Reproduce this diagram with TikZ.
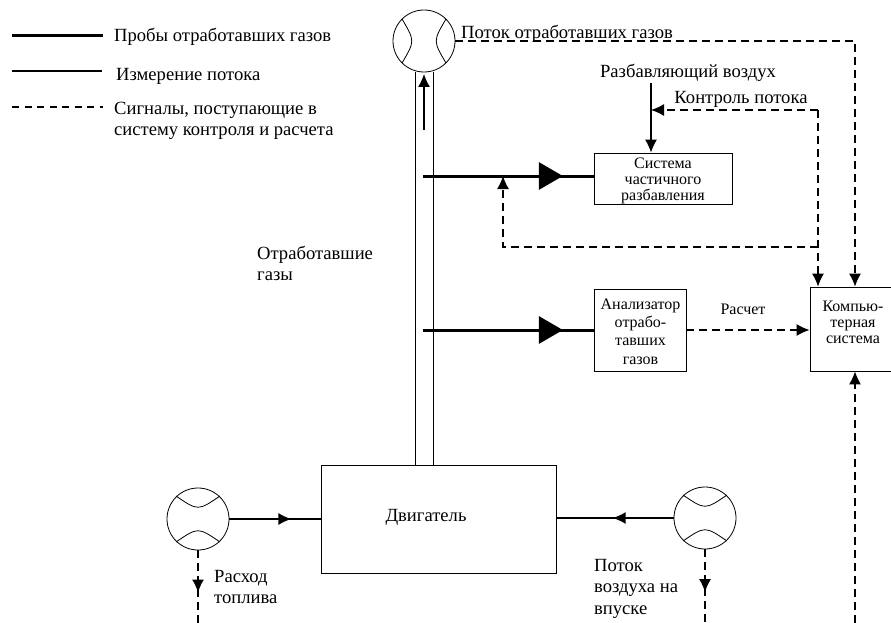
\documentclass[tikz,border=0pt]{standalone}
\usepackage{fontspec}
\setmainfont{Liberation Serif}
\usetikzlibrary{arrows.meta,decorations.markings}
\tikzset{
    meter/.style={draw,circle,line width=0.8pt,minimum size=62pt,inner sep=0pt,fill=white},
    arcline/.style={line width=0.8pt},
    unit/.style={draw,line width=0.8pt,inner sep=0pt,align=center},
    label/.style={inner sep=0pt,align=left,font=\fontsize{18.6}{21.5}\selectfont},
    small/.style={inner sep=0pt,align=center,font=\fontsize{16}{16}\selectfont},
    sampleline/.style={line width=3pt},
    flowline/.style={line width=1.4pt},
    signal/.style={line width=1.3pt,dash pattern=on 8pt off 5pt},
    tip/.style={-{Latex[length=13pt,width=12pt]}},
    midtip/.style={postaction={decorate,decoration={markings,
        mark=at position #1 with {\arrow{Latex[length=13pt,width=12pt]}}}}},
    bigtip/.style={postaction={decorate,decoration={markings,
        mark=at position #1 with {\arrow{Triangle[length=24pt,width=27pt]}}}}}
}
\begin{document}
\begin{tikzpicture}[x=1pt,y=-1pt]
    \useasboundingbox (0,0) rectangle (891,623);
    %% Legend
    \coordinate (samplefrom) at (12,36);
    \coordinate (flowfrom) at (12,71);
    \coordinate (signalfrom) at (12,107);
    \node[label,anchor=west] (samplekey) at (114,36.5) {Пробы отработавших газов};
    \node[label,anchor=west] (flowkey) at (116,76) {Измерение потока};
    \node[label,anchor=north west] (signalkey) at (114,101.5) {Сигналы, поступающие в\\систему контроля и расчета};
    \draw[sampleline] (samplefrom) -- +(91,0);
    \draw[line width=1.1pt] (flowfrom) -- +(90,0);
    \draw[line width=1.2pt,dash pattern=on 7pt off 5.5pt] (signalfrom) -- +(91,0);
    %% Units
    \node[unit,minimum width=235pt,minimum height=108pt] (engine) at (438.5,519) {};
    \node[label] (enginelabel) at (426,517) {Двигатель};
    \node[unit,minimum width=138pt,minimum height=51pt] (dilution) at (663,178.5) {};
    \node[small] (dilutionlabel) at (663,180.5) {Система\\частичного\\разбавления};
    \node[unit,minimum width=92pt,minimum height=82pt] (analyzer) at (640,330) {};
    \node[small,font=\fontsize{16}{18.3}\selectfont] (analyzerlabel) at (640.5,331.5) {Анализатор\\отрабо-\\тавших\\газов};
    \node[unit,minimum width=81pt,minimum height=84pt] (computer) at (850.5,329) {};
    \node[small] (computerlabel) at (853,322) {Компью-\\терная\\система};
    %% Meters
    \node[meter] (exhaustmeter) at (424,41) {};
    \node[meter] (fuelmeter) at (198,519) {};
    \node[meter] (airmeter) at (705,518) {};
    \draw[arcline] (402,19) .. controls (415,41) .. (402,63);
    \draw[arcline] (446,19) .. controls (433,41) .. (446,63);
    \foreach \m in {fuelmeter,airmeter} {
        \draw[arcline] ([shift={(-22,-23)}]\m.center) .. controls ([shift={(0,-8)}]\m.center) .. ([shift={(22,-23)}]\m.center);
        \draw[arcline] ([shift={(-22,23)}]\m.center) .. controls ([shift={(0,8)}]\m.center) .. ([shift={(22,23)}]\m.center);
    }
    %% Exhaust pipe
    \draw[arcline] (415,72) -- (415,465);
    \draw[arcline] (433,72) -- (433,465);
    \coordinate (pipearrow) at (424,130);
    \coordinate (pipetop) at (424,74);
    \draw[line width=1.2pt,tip] (pipearrow) -- (pipetop);
    %% Samples
    \coordinate (dilutionprobe) at (423,176);
    \coordinate (analyzerprobe) at (423,330);
    \draw[sampleline,bigtip=0.82] (dilutionprobe) -- (dilution.west |- dilutionprobe);
    \draw[sampleline,bigtip=0.82] (analyzerprobe) -- (analyzer.west |- analyzerprobe);
    %% Flows
    \draw[flowline,midtip=0.68] (fuelmeter.east) -- (engine.west |- fuelmeter.east);
    \draw[flowline,midtip=0.52] (airmeter.west) -- (engine.east |- airmeter.west);
    \coordinate (airfrom) at (651,83);
    \draw[line width=1.3pt,tip] (airfrom) -- (airfrom |- dilution.north);
    %% Signals
    \coordinate (exhaustcorner) at (855,41);
    \coordinate (controlcorner) at (818,110);
    \coordinate (branch) at (818,247);
    \coordinate (branchcorner) at (503,247);
    \coordinate (fuelend) at (198,623);
    \coordinate (airend) at (705,623);
    \coordinate (computerend) at (855,623);
    \draw[signal,tip] (exhaustmeter.east) -- (exhaustcorner) -- (exhaustcorner |- computer.north);
    \draw[signal,tip] (controlcorner) -- (airfrom |- controlcorner);
    \draw[signal,tip] (controlcorner) -- (controlcorner |- computer.north);
    \draw[signal,tip] (branch) -- (branchcorner) -- (branchcorner |- dilutionprobe);
    \draw[signal,tip] (analyzer.east) -- (computer.west |- analyzer.east);
    \draw[signal,midtip=0.58] (fuelmeter.south) -- (fuelend);
    \draw[signal,midtip=0.58] (airmeter.south) -- (airend);
    \draw[signal,tip] (computerend) -- (computerend |- computer.south);
    %% Labels
    \node[label,anchor=west] (exhaustflow) at (461,34) {Поток отработавших газов};
    \node[label] (dilutionair) at (688,73) {Разбавляющий воздух};
    \node[label] (flowcontrol) at (741,99) {Контроль потока};
    \node[label,anchor=north west] (exhaustgas) at (257,245.5) {Отработавшие\\газы};
    \node[small] (calculation) at (743,309) {Расчет};
    \node[label,anchor=north west] (fuelrate) at (214,570) {Расход\\топлива};
    \node[label,anchor=north west] (airintake) at (594,559) {Поток\\воздуха на\\впуске};
\end{tikzpicture}
\end{document}
